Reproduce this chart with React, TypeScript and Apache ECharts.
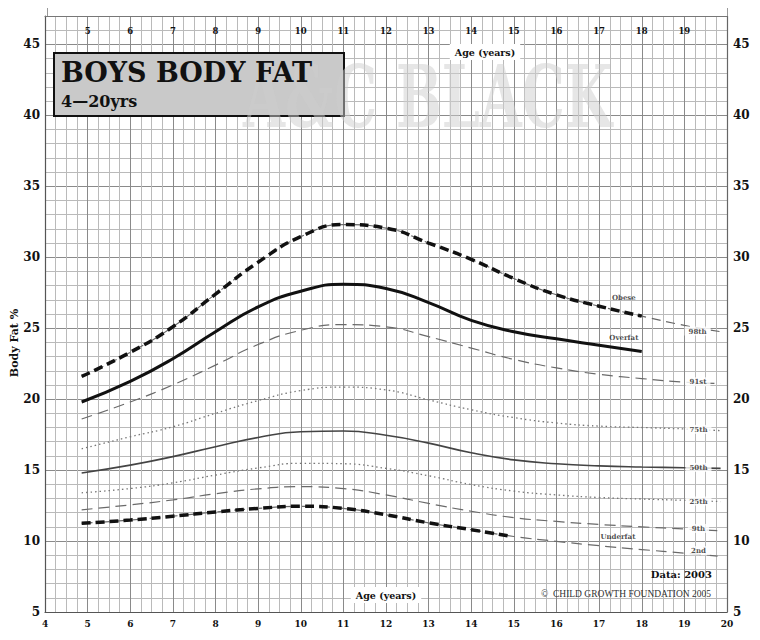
import React, { useEffect, useRef } from "react";
import * as echarts from "echarts";

// Age points (years) at which the centile curves were read
const ages = [4.86, 6, 7, 8, 9, 10, 11, 12, 13, 14, 15, 16, 17, 18, 19, 19.85];
// Centile values (body fat %)
const p98 = [21.6, 23.3, 25.1, 27.4, 29.65, 31.45, 32.3, 32.05, 31.0, 29.85, 28.5, 27.35, 26.55, 25.85, 25.2, 24.75];
const p91 = [18.6, 19.8, 21.0, 22.4, 23.85, 24.85, 25.25, 25.1, 24.4, 23.6, 22.8, 22.2, 21.75, 21.45, 21.2, 21.1];
const p75 = [16.5, 17.35, 18.05, 19.0, 19.9, 20.6, 20.85, 20.65, 19.95, 19.25, 18.7, 18.32, 18.1, 18.0, 17.9, 17.78];
const p50 = [14.8, 15.35, 15.95, 16.65, 17.3, 17.7, 17.75, 17.45, 16.9, 16.22, 15.72, 15.45, 15.3, 15.22, 15.17, 15.12];
const p25 = [13.4, 13.7, 14.1, 14.65, 15.15, 15.48, 15.45, 15.12, 14.6, 13.98, 13.52, 13.25, 13.07, 12.96, 12.87, 12.78];
const p9 = [12.2, 12.55, 12.9, 13.33, 13.68, 13.83, 13.7, 13.25, 12.65, 12.1, 11.65, 11.38, 11.17, 11.0, 10.85, 10.72];
const p2 = [11.25, 11.48, 11.75, 12.05, 12.3, 12.45, 12.3, 11.85, 11.28, 10.8, 10.32, 9.98, 9.67, 9.4, 9.15, 8.92];

// Cut-off bands (thick lines)
const obeseAges = [4.86, 6, 7, 8, 9, 10, 11, 12, 13, 14, 15, 16, 17, 18];
const obeseValues = [21.6, 23.3, 25.1, 27.4, 29.65, 31.45, 32.3, 32.05, 31.0, 29.85, 28.5, 27.35, 26.55, 25.85];
const overfatAges = [4.86, 6, 7, 8, 9, 10, 11, 12, 13, 14, 15, 16, 17, 18];
const overfatValues = [19.8, 21.25, 22.85, 24.75, 26.5, 27.6, 28.1, 27.8, 26.8, 25.55, 24.75, 24.25, 23.8, 23.35];
const underfatAges = [4.86, 6, 7, 8, 9, 10, 11, 12, 13, 14, 14.87];
const underfatValues = [11.25, 11.48, 11.75, 12.05, 12.3, 12.45, 12.3, 11.85, 11.28, 10.8, 10.36];

// Curve labels
const centileNames = ["98th", "91st", "75th", "50th", "25th", "9th", "2nd"];
const centileLabelAges = [19.31, 19.32, 19.33, 19.33, 19.33, 19.33, 19.33];
const centileLabelValues = [24.8, 21.22, 17.87, 15.19, 12.82, 10.89, 9.32];
const zoneNames = ["Obese", "Overfat", "Underfat"];
const zoneLabelAges = [17.58, 17.58, 17.44];
const zoneLabelValues = [27.13, 24.35, 10.3];

// Axis ranges
const xMin = 4;
const xMax = 20;
const yMin = 5;
const yMax = 47;

const SERIF = '"DejaVu Serif", "Liberation Serif", serif';

const pairs = (xs: number[], ys: number[]) => xs.map((x, i) => [x, ys[i]]);

const thinLine = (name: string, ys: number[], type: any, color: string, width = 1.1) => ({
  name,
  type: "line",
  data: pairs(ages, ys),
  smooth: 0.5,
  symbol: "none",
  silent: true,
  z: 2,
  lineStyle: { color, width, type },
});

export default function App() {
  const ref = useRef<HTMLDivElement>(null);

  useEffect(() => {
    if (!ref.current) return;
    const chart = echarts.init(ref.current, undefined, { renderer: "svg" });

    const major = "#8a8a8a";
    const minor = "#bababa";

    const option: any = {
      animation: false,
      backgroundColor: "#ffffff",
      grid: { left: 45, right: 33, top: 16, bottom: 28 },
      xAxis: [
        {
          type: "value",
          min: xMin,
          max: xMax,
          interval: 1,
          position: "bottom",
          axisLine: { show: true, lineStyle: { color: "#555", width: 1.2 } },
          axisTick: { show: false },
          axisLabel: { color: "#111", fontFamily: SERIF, fontWeight: "bold", fontSize: 9, margin: 7 },
          splitLine: { show: true, lineStyle: { color: major, width: 1 } },
          minorTick: { show: false, splitNumber: 4 },
          minorSplitLine: { show: true, lineStyle: { color: minor, width: 1 } },
        },
        {
          type: "value",
          min: xMin,
          max: xMax,
          interval: 1,
          position: "top",
          axisLine: { show: true, lineStyle: { color: "#777", width: 1.2 } },
          axisTick: { show: false },
          axisLabel: {
            inside: true,
            margin: 10,
            color: "#111",
            fontFamily: SERIF,
            fontWeight: "bold",
            fontSize: 8.5,
            formatter: (v: number) => (v > xMin && v < xMax ? String(v) : ""),
          },
          splitLine: { show: false },
        },
      ],
      yAxis: [
        {
          type: "value",
          min: yMin,
          max: yMax,
          interval: 1,
          position: "left",
          axisLine: { show: true, lineStyle: { color: "#555", width: 1.2 } },
          axisTick: { show: false },
          axisLabel: {
            interval: 0,
            margin: 5,
            color: "#111",
            fontFamily: SERIF,
            fontWeight: "bold",
            fontSize: 12,
            formatter: (v: number) => (v % 5 === 0 && v <= 45 ? String(v) : ""),
          },
          splitLine: { show: true, lineStyle: { color: [major, minor, minor, minor, minor], width: 1 } },
        },
        {
          type: "value",
          min: yMin,
          max: yMax,
          interval: 1,
          position: "right",
          axisLine: { show: true, lineStyle: { color: "#666", width: 1.2 } },
          axisTick: { show: false },
          axisLabel: {
            interval: 0,
            margin: 6,
            color: "#111",
            fontFamily: SERIF,
            fontWeight: "bold",
            fontSize: 12,
            formatter: (v: number) => (v % 5 === 0 && v <= 45 ? String(v) : ""),
          },
          splitLine: { show: false },
        },
      ],
      series: [
        thinLine("98th", p98, [9, 6], "#666", 1.1),
        thinLine("91st", p91, [11, 6], "#6a6a6a", 1.2),
        thinLine("75th", p75, [1.5, 3], "#777", 1.3),
        thinLine("50th", p50, "solid", "#444", 1.6),
        thinLine("25th", p25, [1.5, 3], "#777", 1.3),
        thinLine("9th", p9, [11, 6], "#6a6a6a", 1.2),
        thinLine("2nd", p2, [11, 6], "#6a6a6a", 1.2),
        {
          name: "Obese",
          type: "line",
          data: pairs(obeseAges, obeseValues),
          smooth: 0.5,
          symbol: "none",
          silent: true,
          z: 3,
          lineStyle: { color: "#111", width: 3.5, type: [9, 5] },
        },
        {
          name: "Overfat",
          type: "line",
          data: pairs(overfatAges, overfatValues),
          smooth: 0.5,
          symbol: "none",
          silent: true,
          z: 3,
          lineStyle: { color: "#111", width: 3, type: "solid" },
        },
        {
          name: "Underfat",
          type: "line",
          data: pairs(underfatAges, underfatValues),
          smooth: 0.5,
          symbol: "none",
          silent: true,
          z: 3,
          lineStyle: { color: "#111", width: 3.5, type: [9, 5] },
        },
        {
          name: "centile labels",
          type: "scatter",
          symbolSize: 0,
          silent: true,
          z: 5,
          data: centileNames.map((n, i) => ({ name: n, value: [centileLabelAges[i], centileLabelValues[i]] })),
          label: {
            show: true,
            position: "inside",
            formatter: "{b}",
            fontFamily: SERIF,
            fontWeight: "bold",
            fontSize: 7,
            color: "#222",
            backgroundColor: "#ffffff",
            padding: [1, 4],
          },
        },
        {
          name: "zone labels",
          type: "scatter",
          symbolSize: 0,
          silent: true,
          z: 5,
          data: zoneNames.map((n, i) => ({ name: n, value: [zoneLabelAges[i], zoneLabelValues[i]] })),
          label: {
            show: true,
            position: "inside",
            formatter: "{b}",
            fontFamily: SERIF,
            fontWeight: "bold",
            fontSize: 7,
            color: "#222",
          },
        },
      ],
      graphic: [
        { type: "line", z: 10, shape: { x1: 47.5, y1: 0, x2: 47.5, y2: 16 }, style: { stroke: "#999", lineWidth: 1 } },
        { type: "line", z: 10, shape: { x1: 727.5, y1: 0, x2: 727.5, y2: 16 }, style: { stroke: "#999", lineWidth: 1 } },
        {
          type: "rect",
          z: 20,
          shape: { x: 54, y: 53, width: 290, height: 63 },
          style: { fill: "#c9c9c9", stroke: "#111", lineWidth: 2 },
        },
        {
          type: "text",
          z: 22,
          x: 243,
          y: 97,
          scaleX: 0.63,
          silent: true,
          style: {
            text: "A&C BLACK",
            font: `bold 86px ${SERIF}`,
            fill: "rgba(205,205,205,0.5)",
            verticalAlign: "middle",
            align: "left",
          },
        },
        {
          type: "text",
          z: 23,
          x: 61,
          y: 72,
          style: { text: "BOYS BODY FAT", font: `bold 27px ${SERIF}`, fill: "#111", verticalAlign: "middle", align: "left" },
        },
        {
          type: "text",
          z: 23,
          x: 61,
          y: 101,
          style: { text: "4—20yrs", font: `bold 16px ${SERIF}`, fill: "#111", verticalAlign: "middle", align: "left" },
        },
        {
          type: "text",
          z: 21,
          x: 14,
          y: 343,
          rotation: Math.PI / 2,
          style: { text: "Body Fat %", font: `bold 11px ${SERIF}`, fill: "#111", verticalAlign: "middle", align: "center" },
        },
        {
          type: "text",
          z: 21,
          x: 485,
          y: 52,
          style: {
            text: "Age (years)",
            font: `bold 9.5px ${SERIF}`,
            fill: "#111",
            verticalAlign: "middle",
            align: "center",
            backgroundColor: "#ffffff",
            padding: [3, 5],
          },
        },
        {
          type: "text",
          z: 21,
          x: 386,
          y: 595,
          style: {
            text: "Age (years)",
            font: `bold 9.5px ${SERIF}`,
            fill: "#111",
            verticalAlign: "middle",
            align: "center",
            backgroundColor: "#ffffff",
            padding: [3, 5],
          },
        },
        {
          type: "text",
          z: 21,
          x: 712,
          y: 574,
          style: { text: "Data: 2003", font: `bold 10px ${SERIF}`, fill: "#111", verticalAlign: "middle", align: "right" },
        },
        {
          type: "text",
          z: 21,
          x: 711,
          y: 594,
          style: {
            text: "©  CHILD GROWTH FOUNDATION 2005",
            font: `9.5px "Liberation Serif", serif`,
            fill: "#333",
            verticalAlign: "middle",
            align: "right",
          },
        },
      ],
    };

    chart.setOption(option);
    return () => chart.dispose();
  }, []);

  return <div ref={ref} style={{ width: 760, height: 640, margin: -8 }} />;
}
